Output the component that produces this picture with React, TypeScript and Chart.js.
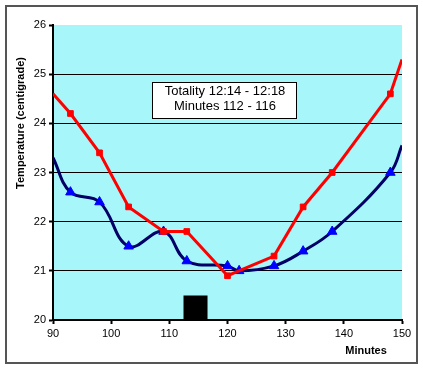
import React, { useEffect, useRef } from "react";
import { Chart, registerables } from "chart.js";

Chart.register(...registerables);

const redMinutes = [90, 93, 98, 103, 109, 113, 120, 128, 133, 138, 148, 150];
const redTemps = [24.6, 24.2, 23.4, 22.3, 21.8, 21.8, 20.9, 21.3, 22.3, 23.0, 24.6, 25.3];
const blueMinutes = [90, 93, 98, 103, 109, 113, 120, 122, 128, 133, 138, 148, 150];
const blueTemps = [23.3, 22.6, 22.4, 21.5, 21.8, 21.2, 21.1, 21.0, 21.1, 21.4, 21.8, 23.0, 23.55];
const totalityMinutes = [112.4, 116.6];
const totalityTop = [20.5, 20.5];
const xTicks = [90, 100, 110, 120, 130, 140, 150];
const yTicks = [20, 21, 22, 23, 24, 25, 26];
const noteLines = ["Totality 12:14 - 12:18", "Minutes 112 - 116"];
const yTitle = "Temperature (centigrade)";
const xTitle = "Minutes";

const FONT = "'Liberation Sans', Arial, sans-serif";

const decorPlugin = {
  id: "decor",
  beforeDraw(chart: any) {
    const { ctx, chartArea } = chart;
    ctx.save();
    ctx.fillStyle = "#ffffff";
    ctx.fillRect(0, 0, chart.width, chart.height);
    ctx.fillStyle = "#a6f6fa";
    ctx.fillRect(chartArea.left, chartArea.top, chartArea.right - chartArea.left, chartArea.bottom - chartArea.top);
    ctx.restore();
  },
  afterDraw(chart: any) {
    const { ctx } = chart;
    ctx.save();
    ctx.strokeStyle = "#555555";
    ctx.lineWidth = 2;
    ctx.strokeRect(6, 6, 411, 357);
    ctx.fillStyle = "#ffffff";
    ctx.fillRect(152.5, 82.5, 144, 36);
    ctx.strokeStyle = "#000000";
    ctx.lineWidth = 1;
    ctx.strokeRect(152.5, 82.5, 144, 36);
    ctx.fillStyle = "#000000";
    ctx.font = `13px ${FONT}`;
    ctx.textAlign = "center";
    ctx.textBaseline = "middle";
    ctx.fillText(noteLines[0], 225, 91);
    ctx.fillText(noteLines[1], 225, 106);
    ctx.font = `bold 11px ${FONT}`;
    ctx.fillText(xTitle, 366, 351);
    ctx.translate(21, 123);
    ctx.rotate(-Math.PI / 2);
    ctx.fillText(yTitle, 0, 0);
    ctx.restore();
  },
};

export default function App() {
  const ref = useRef<HTMLCanvasElement | null>(null);
  useEffect(() => {
    if (!ref.current) return;
    const chart = new Chart(ref.current, {
      type: "line",
      data: {
        datasets: [
          {
            label: "Totality",
            data: totalityMinutes.map((x, i) => ({ x, y: totalityTop[i] })),
            borderWidth: 0,
            borderColor: "rgba(0,0,0,0)",
            backgroundColor: "#000000",
            fill: "start",
            pointRadius: 0,
            tension: 0,
            order: 3,
          },
          {
            label: "Blue",
            data: blueMinutes.map((x, i) => ({ x, y: blueTemps[i] })),
            borderColor: "#000066",
            borderWidth: 3,
            tension: 0.4,
            pointStyle: "triangle",
            pointRadius: blueMinutes.map((_, i) => (i === 0 || i === blueMinutes.length - 1 ? 0 : 5.5)),
            pointBackgroundColor: "#0000ff",
            pointBorderColor: "#0000ff",
            pointBorderWidth: 1,
            fill: false,
            order: 2,
          },
          {
            label: "Red",
            data: redMinutes.map((x, i) => ({ x, y: redTemps[i] })),
            borderColor: "#ff0000",
            borderWidth: 3,
            tension: 0,
            pointStyle: "rect",
            pointRadius: redMinutes.map((_, i) => (i === 0 || i === redMinutes.length - 1 ? 0 : 4)),
            pointBackgroundColor: "#ff0000",
            pointBorderColor: "#ff0000",
            pointBorderWidth: 1,
            fill: false,
            order: 1,
          },
        ],
      },
      options: {
        animation: false,
        responsive: false,
        maintainAspectRatio: false,
        layout: { padding: { left: 0, right: 21, top: 25, bottom: 0 } },
        plugins: { legend: { display: false }, tooltip: { enabled: false } },
        scales: {
          x: {
            type: "linear",
            min: 90,
            max: 150,
            afterFit: (s: any) => { s.height = 49; },
            afterBuildTicks: (s: any) => { s.ticks = xTicks.map((v) => ({ value: v })); },
            grid: { drawOnChartArea: false, drawTicks: true, tickLength: 4, tickColor: "#000", tickWidth: 2 },
            border: { color: "#000", width: 2 },
            ticks: { color: "#000", font: { family: FONT, size: 11 }, padding: 3, maxRotation: 0 },
          },
          y: {
            type: "linear",
            min: 20,
            max: 26,
            afterFit: (s: any) => { s.width = 53; },
            afterBuildTicks: (s: any) => { s.ticks = yTicks.map((v) => ({ value: v })); },
            grid: {
              color: (c: any) => (c.tick && (c.tick.value === 26 || c.tick.value === 20) ? "rgba(0,0,0,0)" : "#000"),
              lineWidth: 1,
              drawTicks: true,
              tickLength: 4,
              tickColor: "#000",
              tickWidth: 2,
            },
            border: { color: "#000", width: 2 },
            ticks: { color: "#000", font: { family: FONT, size: 11 }, padding: 3 },
          },
        },
      },
      plugins: [decorPlugin],
    } as any);
    return () => chart.destroy();
  }, []);
  return (
    <div style={{ position: "fixed", left: 0, top: 0, width: 423, height: 369 }}>
      <canvas ref={ref} width={423} height={369} style={{ width: 423, height: 369 }} />
    </div>
  );
}
